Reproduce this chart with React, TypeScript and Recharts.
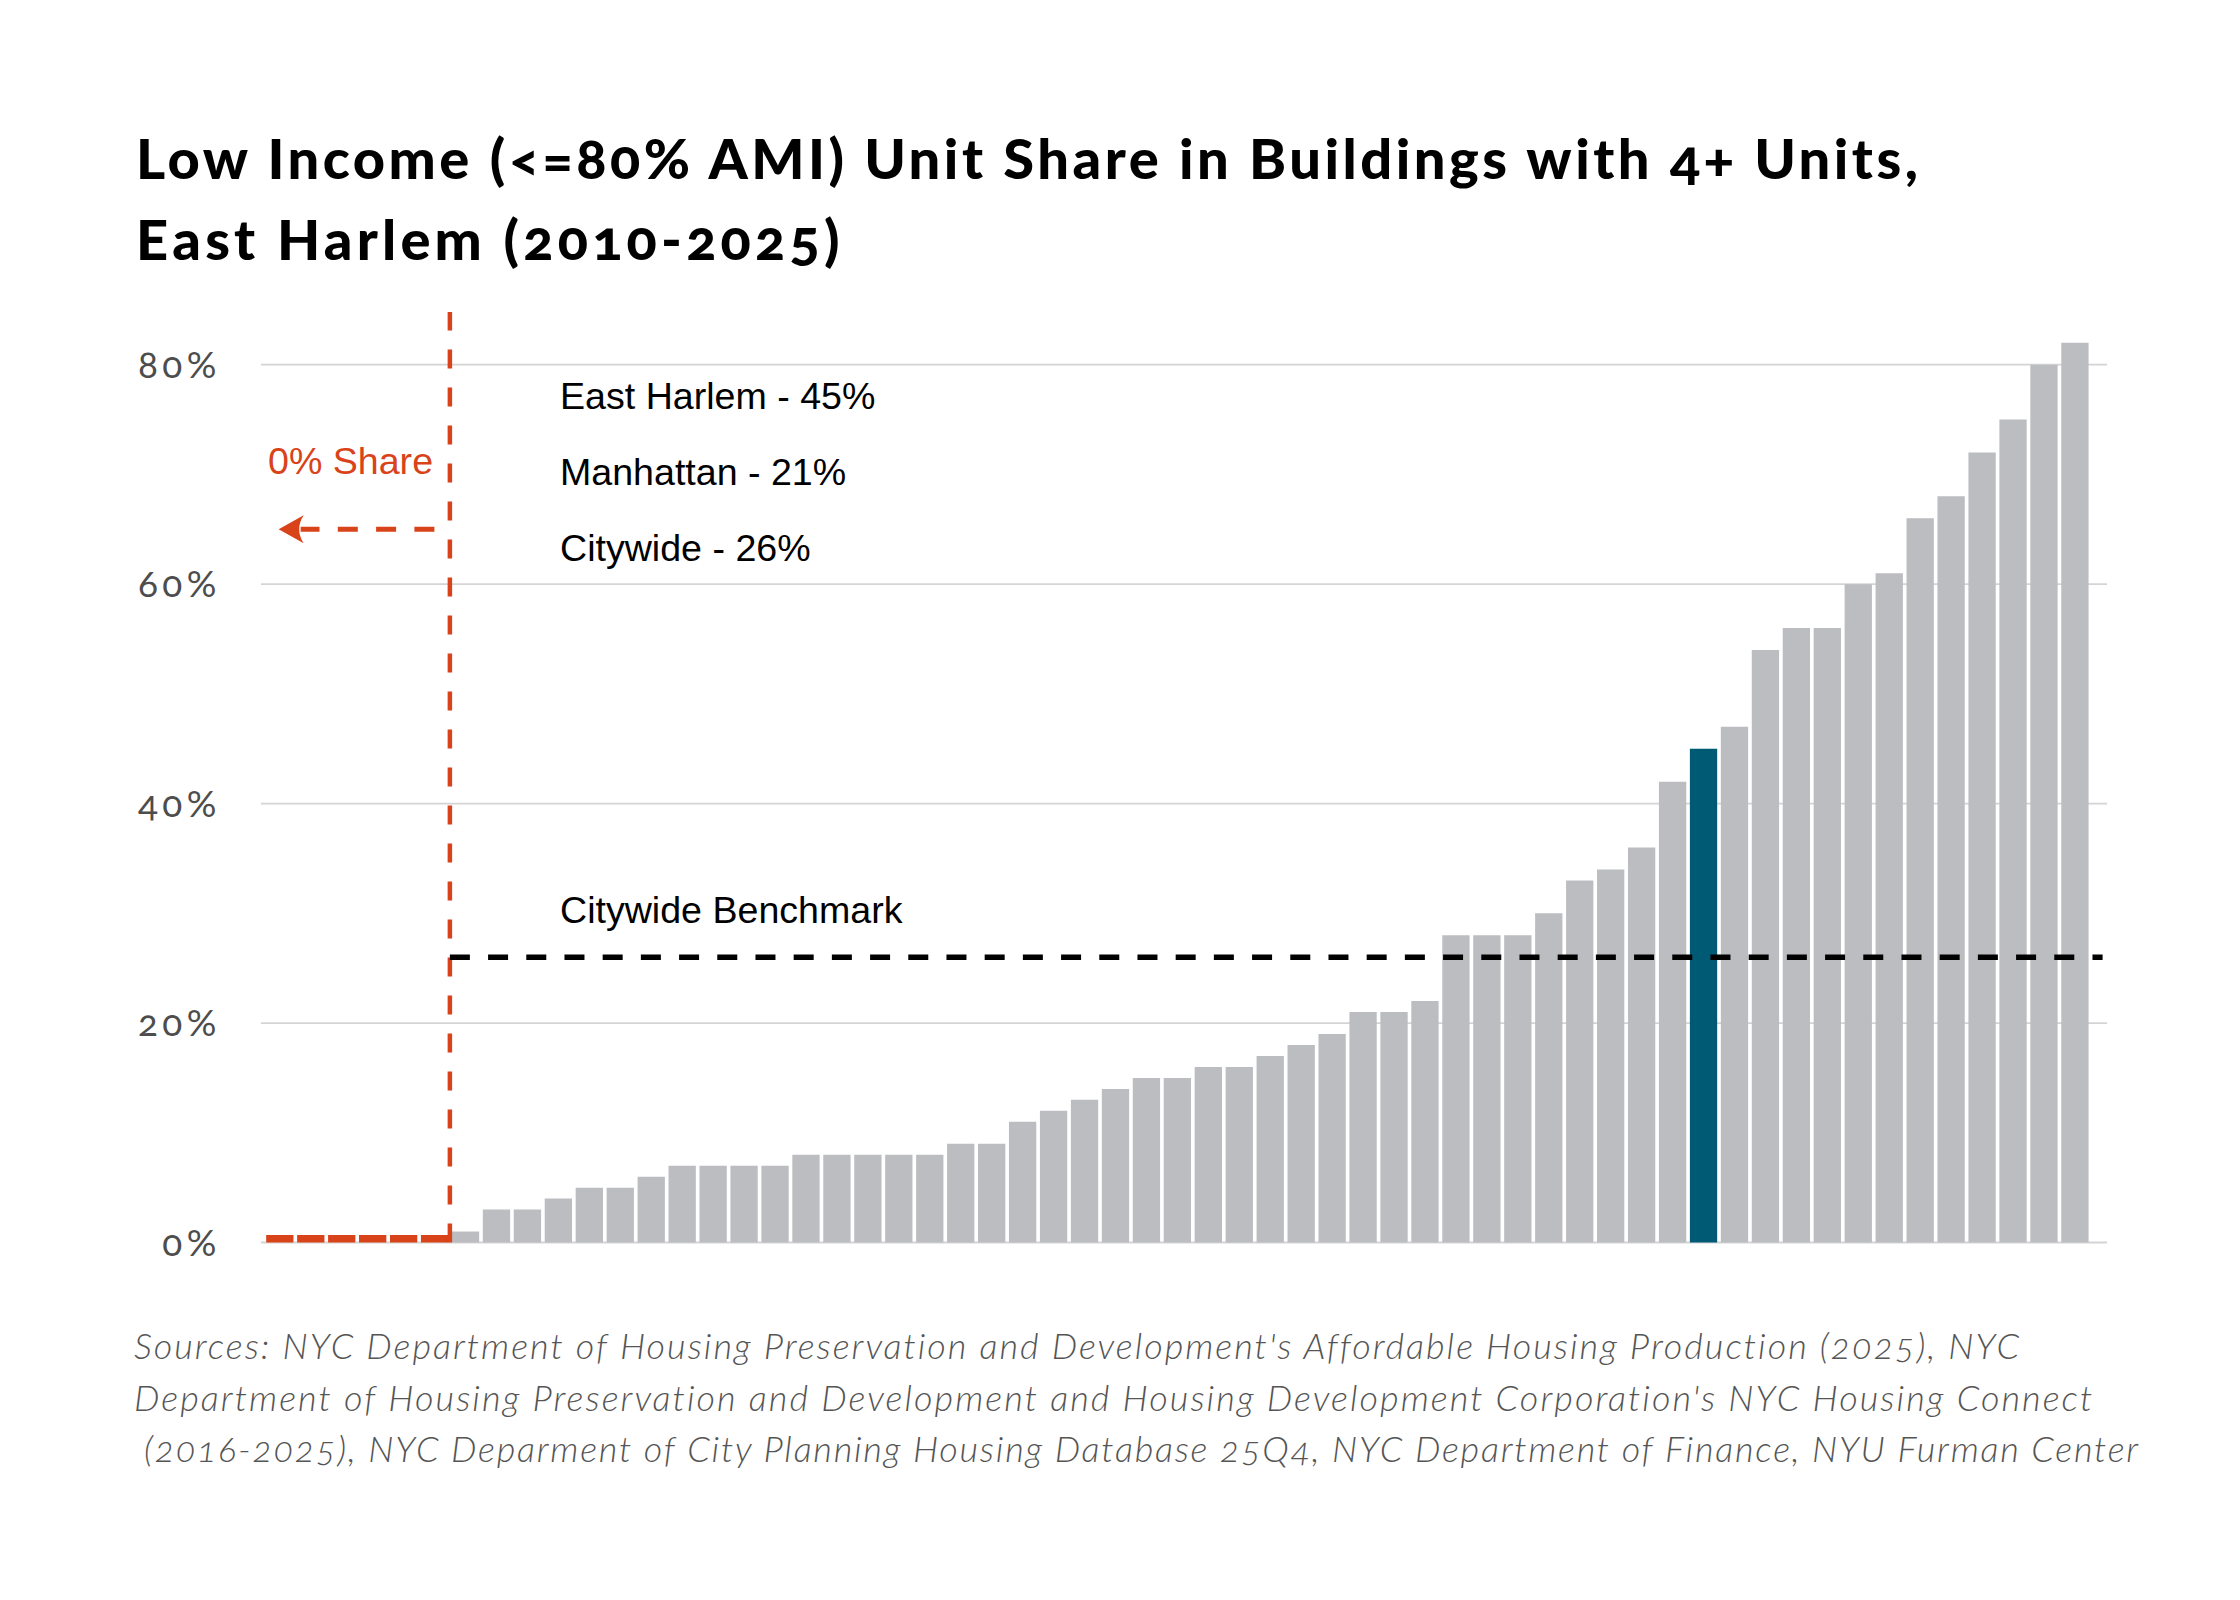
import React from 'react';
import { BarChart, Bar, XAxis, YAxis, CartesianGrid, ReferenceLine, Cell } from 'recharts';

// Low-income unit share by community district, sorted ascending (%)
const shareValues: number[] = [
  0, 0, 0, 0, 0, 0,
  1, 3, 3, 4, 5, 5, 6, 7, 7, 7, 7, 8, 8, 8, 8, 8, 9, 9, 11, 12, 13, 14, 15, 15,
  16, 16, 17, 18, 19, 21, 21, 22, 28, 28, 28, 30, 33, 34, 36, 42, 45, 47, 54, 56,
  56, 60, 61, 66, 68, 72, 75, 80, 82,
];
const highlightIndex = 46; // East Harlem
const zeroShareCount = 6;
const citywideBenchmark = 26;
const arrowLevel = 65;
const yTicks = [0, 20, 40, 60, 80];

const titleLines = [
  'Low Income (<=80% AMI) Unit Share in Buildings with 4+ Units,',
  'East Harlem (2010-2025)',
];
const statLines = ['East Harlem - 45%', 'Manhattan - 21%', 'Citywide - 26%'];
const sourceLines = [
  "Sources: NYC Department of Housing Preservation and Development's Affordable Housing Production (2025), NYC",
  "Department of Housing Preservation and Development and Housing Development Corporation's NYC Housing Connect",
  '(2016-2025), NYC Deparment of City Planning Housing Database 25Q4, NYC Department of Finance, NYU Furman Center',
];

const data = shareValues.map((v, i) => ({ rank: i, share: v }));

const RED = '#D9431A';
const TEAL = '#005A74';
const GRAY = '#BCBDC1';

const W = 2240;
const H = 1600;

const YTick = (props: any) => {
  const { x, y, payload } = props;
  return (
    <text
      x={x}
      y={y}
      dy="0.355em"
      textAnchor="end"
      fill="#4d4d4d"
      fontFamily="Lato"
      fontSize={37}
      style={{ fontVariantNumeric: 'oldstyle-nums', letterSpacing: '4.5px' }}
    >
      {payload.value}%
    </text>
  );
};

const ArrowShape = (props: any) => {
  const { x1, y1, x2, y2 } = props;
  const head = 24;
  return (
    <g>
      <line x1={x1} y1={y1} x2={x2 + head - 3} y2={y2} stroke={RED} strokeWidth={5} strokeDasharray="20 18.3" />
      <path
        d={`M ${x2 - 1} ${y2} L ${x2 + head} ${y2 - 14} Q ${x2 + 15} ${y2} ${x2 + head} ${y2 + 14} Z`}
        fill={RED}
      />
    </g>
  );
};

export default function App() {
  return (
    <div style={{ position: 'absolute', left: 0, top: 0, width: W, height: H, background: '#fff' }}>
      <BarChart
        width={W}
        height={H}
        data={data}
        margin={{ top: 312, right: 133, bottom: 357.5, left: 0 }}
      >
        <CartesianGrid vertical={false} horizontalValues={yTicks} stroke="#d4d4d4" strokeWidth={1.8} />
        <XAxis dataKey="rank" type="number" domain={[-0.6026, 59.042]} hide />
        <YAxis
          domain={[0, 84.8]}
          ticks={yTicks}
          width={261}
          tickSize={0}
          tickMargin={40}
          axisLine={false}
          tickLine={false}
          tick={<YTick />}
          interval={0}
        />
        <Bar
          dataKey="share"
          barSize={27.3}
          isAnimationActive={false}
          minPointSize={(v: any) => (v === 0 ? 7.5 : 0)}
        >
          {data.map((d, i) => (
            <Cell
              key={i}
              fill={i < zeroShareCount ? RED : i === highlightIndex ? TEAL : GRAY}
            />
          ))}
        </Bar>
        <ReferenceLine
          x={zeroShareCount - 0.5}
          stroke={RED}
          strokeWidth={4.5}
          strokeDasharray="19 19"
          ifOverflow="visible"
        />
        <ReferenceLine
          segment={[
            { x: zeroShareCount - 0.5, y: citywideBenchmark },
            { x: 58.9, y: citywideBenchmark },
          ]}
          stroke="#000"
          strokeWidth={5.5}
          strokeDasharray="20 18.2"
          ifOverflow="visible"
        />
        <ReferenceLine
          segment={[
            { x: zeroShareCount - 1, y: arrowLevel },
            { x: 0, y: arrowLevel },
          ]}
          ifOverflow="visible"
          shape={<ArrowShape />}
        />
      </BarChart>
      <svg
        width={W}
        height={H}
        style={{ position: 'absolute', left: 0, top: 0, pointerEvents: 'none' }}
      >
        <g
          fontFamily="Lato"
          fontWeight={900}
          fontSize={56}
          fill="#000"
          style={{ fontVariantNumeric: 'oldstyle-nums' }}
        >
          <text x={136} y={179.3} style={{ letterSpacing: '3.5px' }}>{titleLines[0]}</text>
          <text x={136} y={259.5} style={{ letterSpacing: '4.2px' }}>{titleLines[1]}</text>
        </g>
        <g fontFamily="'Liberation Sans', Arial, sans-serif" fontSize={37.6} fill="#000">
          <text x={560} y={409.3}>{statLines[0]}</text>
          <text x={560} y={485}>{statLines[1]}</text>
          <text x={560} y={560.5}>{statLines[2]}</text>
          <text x={560} y={923.3}>Citywide Benchmark</text>
          <text x={268} y={474} fill={RED}>0% Share</text>
        </g>
        <g
          fontFamily="Lato"
          fontStyle="italic"
          fontWeight={300}
          fontSize={36}
          fill="#555"
          style={{ fontVariantNumeric: 'oldstyle-nums' }}
        >
          <text x={134} y={1359.3} style={{ letterSpacing: '2px' }}>{sourceLines[0]}</text>
          <text x={134} y={1410.5} style={{ letterSpacing: '2.05px' }}>{sourceLines[1]}</text>
          <text x={144} y={1461.7} style={{ letterSpacing: '1.75px' }}>{sourceLines[2]}</text>
        </g>
      </svg>
    </div>
  );
}
